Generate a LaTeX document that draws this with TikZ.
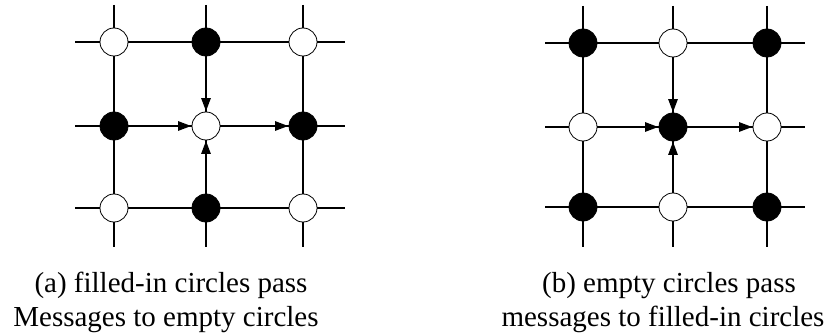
\documentclass[tikz,border=0pt]{standalone}
\usepackage{fontspec}
\setmainfont{Liberation Serif}
\usetikzlibrary{arrows.meta}
\begin{document}
\begin{tikzpicture}[x=1pt,y=-1pt,
  full/.style={circle,draw=black,fill=black,line width=0.8pt,minimum size=28pt,inner sep=0pt},
  empty/.style={circle,draw=black,fill=white,line width=0.8pt,minimum size=28pt,inner sep=0pt},
  gridline/.style={line width=1.2pt},
  msg/.style={line width=1.2pt,-{Triangle[length=13pt,width=9.5pt]},shorten >=0.5pt},
  captext/.style={font=\fontsize{29}{34}\selectfont,anchor=base,inner sep=0pt}]
\useasboundingbox (0,0) rectangle (824,334);
% left grid
\foreach \x/\n in {114/1,206/2,303/3}{
  \coordinate (lt\n) at (\x,5); \coordinate (lb\n) at (\x,247);}
\foreach \y/\n in {42/1,126/2,208/3}{
  \coordinate (ll\n) at (75,\y); \coordinate (lr\n) at (345,\y);}
\foreach \n in {1,2,3}{
  \draw[gridline] (lt\n) -- (lb\n);
  \draw[gridline] (ll\n) -- (lr\n);}
\node[empty] (a11) at (114,42) {};
\node[full]  (a12) at (206,42) {};
\node[empty] (a13) at (303,42) {};
\node[full]  (a21) at (114,126) {};
\node[empty] (a22) at (206,126) {};
\node[full]  (a23) at (303,126) {};
\node[empty] (a31) at (114,208) {};
\node[full]  (a32) at (206,208) {};
\node[empty] (a33) at (303,208) {};
\draw[msg] (a12) -- (a22);
\draw[msg] (a21) -- (a22);
\draw[msg] (a32) -- (a22);
\draw[msg] (a22) -- (a23);
% right grid
\foreach \x/\n in {583/1,673/2,767/3}{
  \coordinate (rt\n) at (\x,6); \coordinate (rb\n) at (\x,247);}
\foreach \y/\n in {43/1,127/2,207/3}{
  \coordinate (rl\n) at (545,\y); \coordinate (rr\n) at (805,\y);}
\foreach \n in {1,2,3}{
  \draw[gridline] (rt\n) -- (rb\n);
  \draw[gridline] (rl\n) -- (rr\n);}
\node[full]  (b11) at (583,43) {};
\node[empty] (b12) at (673,43) {};
\node[full]  (b13) at (767,43) {};
\node[empty] (b21) at (583,127) {};
\node[full]  (b22) at (673,127) {};
\node[empty] (b23) at (767,127) {};
\node[full]  (b31) at (583,207) {};
\node[empty] (b32) at (673,207) {};
\node[full]  (b33) at (767,207) {};
\draw[msg] (b12) -- (b22);
\draw[msg] (b21) -- (b22);
\draw[msg] (b32) -- (b22);
\draw[msg] (b22) -- (b23);
% captions
\node[captext] (capa1) at (171,292) {(a) filled-in circles pass};
\node[captext] (capa2) at (166,326) {Messages to empty circles};
\node[captext] (capb1) at (669,292) {(b) empty circles pass};
\node[captext] (capb2) at (663,326) {messages to filled-in circles};
\end{tikzpicture}
\end{document}
